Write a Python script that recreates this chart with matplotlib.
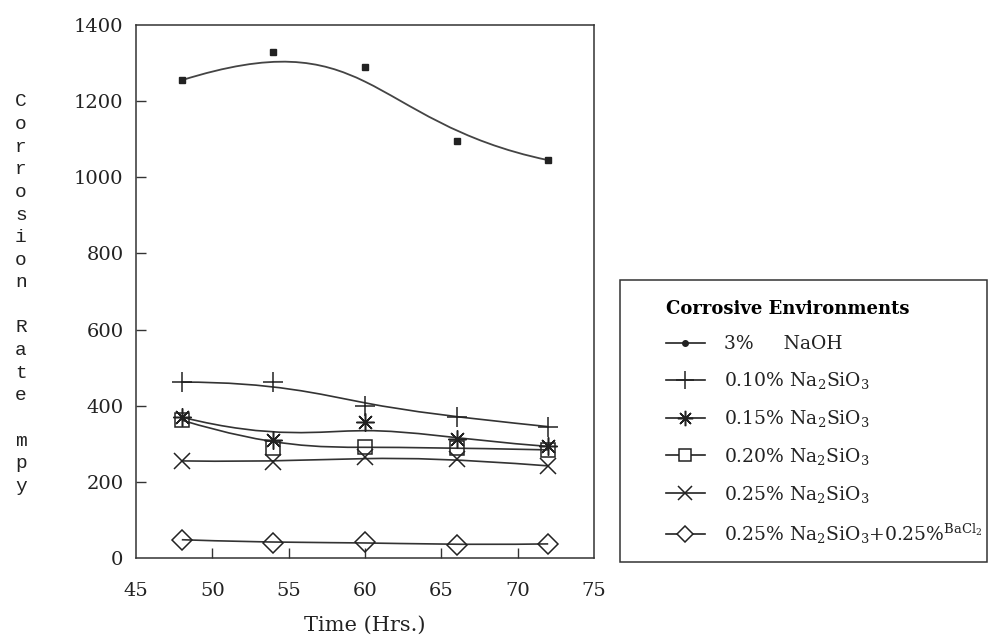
import numpy as np
import matplotlib
matplotlib.use("Agg")
from matplotlib import pyplot as plt
from matplotlib.lines import Line2D
from matplotlib.patches import Rectangle, PathPatch
from matplotlib.path import Path

# Data
hours = np.array([48, 54, 60, 66, 72])
naoh = np.array([1255, 1330, 1290, 1095, 1045])
si_010 = np.array([462, 462, 399, 370, 345])
si_015 = np.array([370, 310, 358, 312, 293])
si_020 = np.array([362, 290, 292, 289, 284])
si_025 = np.array([255, 252, 266, 260, 242])
si_025_bacl = np.array([48, 40, 42, 34, 37])

labels = [
    "3%     NaOH",
    r"0.10% Na$_2$SiO$_3$",
    r"0.15% Na$_2$SiO$_3$",
    r"0.20% Na$_2$SiO$_3$",
    r"0.25% Na$_2$SiO$_3$",
    r"0.25% Na$_2$SiO$_3$+0.25%$^{\mathrm{BaCl_2}}$",
]
xticks = [45, 50, 55, 60, 65, 70, 75]
yticks = [0, 200, 400, 600, 800, 1000, 1200, 1400]


def bspline_path(x, y):
    # clamped cubic B-spline on the 5 points as control points,
    # split into two Bezier pieces (same smoothing the old plot used)
    p = np.column_stack([x, y]).astype(float)
    q = (p[1] + p[2]) / 2
    r = (p[2] + p[3]) / 2
    m = (q + r) / 2
    verts = [p[0], p[1], q, m, r, p[3], p[4]]
    codes = [Path.MOVETO] + [Path.CURVE4] * 6
    return Path(verts, codes)


plt.rcParams["font.family"] = ["DejaVu Serif"]
plt.rcParams["mathtext.fontset"] = "dejavuserif"

ink = "#222222"
fig = plt.figure(figsize=(9.91, 6.38), dpi=100)
W, H = 991, 638
ax = fig.add_axes([136 / W, 1 - 558 / H, 458 / W, 533 / H])

ax.add_patch(PathPatch(bspline_path(hours, naoh), fill=False,
                       edgecolor="#444444", lw=1.3))
ax.plot(hours, naoh, ls="none", marker="s", ms=4, color=ink)

series = [si_010, si_015, si_020, si_025, si_025_bacl]
markers = ["+", (8, 2, 0), "s", "x", "D"]
sizes = [15, 13, 10, 12, 10]
for y, m, s in zip(series, markers, sizes):
    ax.add_patch(PathPatch(bspline_path(hours, y), fill=False,
                           edgecolor="#333333", lw=1.2))
    ax.plot(hours, y, ls="none", marker=m, ms=s,
            mfc="none", mec=ink, mew=1.1)

ax.set_xlim(45, 75)
ax.set_ylim(0, 1400)
ax.set_xticks(xticks)
ax.set_yticks(yticks)
ax.tick_params(direction="in", length=7, width=1, colors="#333333",
               labelcolor=ink, labelsize=14)
ax.tick_params(axis="x", pad=17)
ax.tick_params(axis="y", pad=9)
for ticks in (ax.xaxis.get_major_ticks(), ax.yaxis.get_major_ticks()):
    ticks[0].tick1line.set_visible(False)
    ticks[-1].tick1line.set_visible(False)
for sp in ax.spines.values():
    sp.set_color("#333333")
    sp.set_linewidth(1.1)

ax.set_xlabel("Time (Hrs.)", fontsize=15, color=ink, labelpad=12)

# stacked y label
ylab = "Corrosion\nRate\nmpy"
row = 0
for word in ylab.split("\n"):
    for ch in word:
        fig.text(21 / W, 1 - (102 + row * 22.6) / H, ch, family="Liberation Mono",
                 fontsize=14, color=ink, ha="center", va="center")
        row += 1
    row += 1

# legend
handles = [Line2D([], [], color=ink, lw=1.2, marker="o", ms=4)]
for m, s in zip(markers, sizes):
    handles.append(Line2D([], [], color=ink, lw=1.2, marker=m, ms=s * 0.85,
                          mfc="white", mec=ink, mew=1.1))
leg = fig.legend(handles, labels, loc="upper left",
                 bbox_to_anchor=(658 / W, 1 - 293 / H), borderaxespad=0,
                 frameon=False, fontsize=13.5, title="Corrosive Environments",
                 title_fontproperties={"size": 13, "weight": "bold"},
                 alignment="left", handlelength=2.1, handletextpad=1.0,
                 labelspacing=0.9)
for t in leg.get_texts():
    t.set_color(ink)
fig.patches.append(Rectangle((620 / W, 1 - 562 / H), 367 / W, 282 / H,
                             transform=fig.transFigure, fill=False,
                             edgecolor="#333333", lw=1.1))

fig.savefig("out.png", dpi=100)
